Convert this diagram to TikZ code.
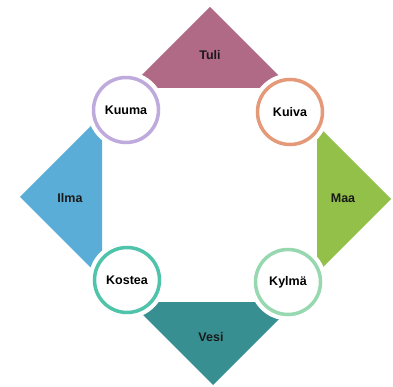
\documentclass[tikz,border=0pt]{standalone}
\usepackage{fontspec}
\setmainfont{Liberation Sans}
\usepackage{tikz}
\usetikzlibrary{arrows,automata}
\usepackage{xcolor}
\definecolor{tuli}{HTML}{B06A86}
\definecolor{ilma}{HTML}{5AADD6}
\definecolor{maa}{HTML}{92C048}
\definecolor{vesi}{HTML}{388F91}
\definecolor{kuuma}{HTML}{BEAADC}
\definecolor{kuiva}{HTML}{E49A78}
\definecolor{kostea}{HTML}{50C4AA}
\definecolor{kylma}{HTML}{98D8B0}

\begin{document}
\begin{tikzpicture}[x=1pt,y=-1pt,font=\bfseries\fontsize{12.5}{14}\selectfont]
\tikzstyle{every state}=[fill=white,text=black,line width=3.5pt,minimum size=65pt,inner sep=0pt,
  preaction={draw=white,line width=12pt}]
\tikzstyle{element}=[text=black!90,inner sep=1pt]
\useasboundingbox (0,0) rectangle (393,387);

% the four elements
\fill[tuli] (210,7) -- (129,88) -- (291,88) -- cycle;
\fill[ilma] (20,197) -- (102,115) -- (102,279) -- cycle;
\fill[maa]  (391,199) -- (317,125) -- (317,273) -- cycle;
\fill[vesi] (213,385) -- (130,302) -- (296,302) -- cycle;

\node[element] (Tuli) at (210,55)  {Tuli};
\node[element] (Ilma) at (70,198)  {Ilma};
\node[element] (Maa)  at (343,198) {Maa};
\node[element] (Vesi) at (211,337) {Vesi};

% the qualities
\node[state,draw=kuuma]  (Kuuma)  at (126,110) {Kuuma};
\node[state,draw=kuiva]  (Kuiva)  at (290,112) {Kuiva};
\node[state,draw=kostea] (Kostea) at (127,280) {Kostea};
\node[state,draw=kylma]  (Kylma)  at (288,282) {Kylmä};
\end{tikzpicture}
\end{document}
